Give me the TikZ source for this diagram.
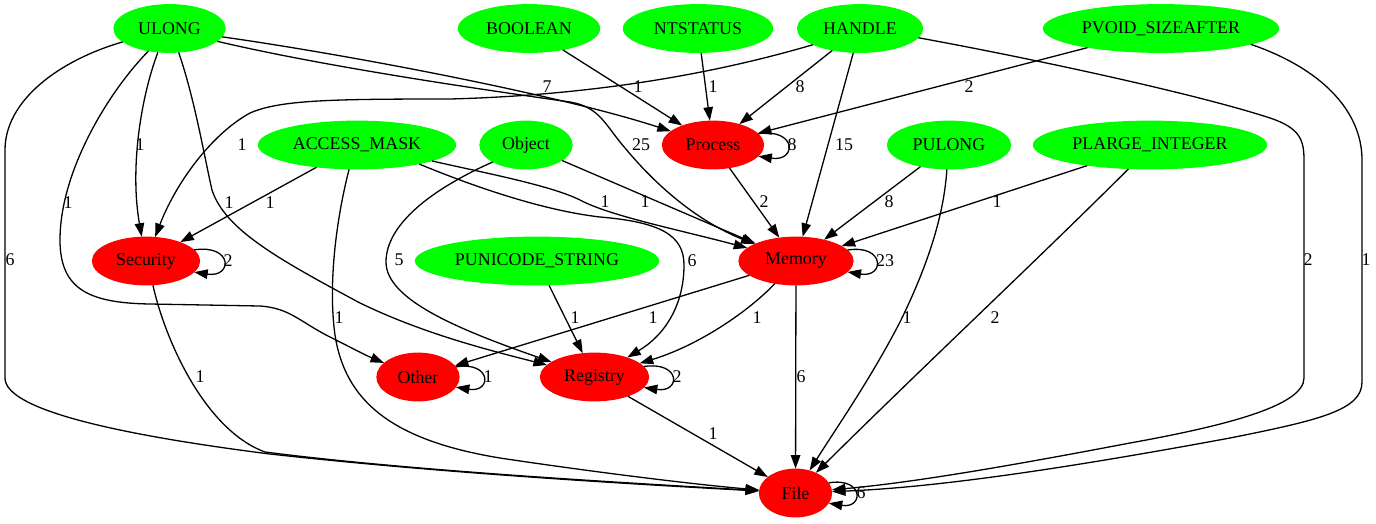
\documentclass[tikz,border=0pt]{standalone}
\usepackage{fontspec}
\setmainfont{Liberation Serif}
\usetikzlibrary{shapes.geometric,arrows.meta}
\definecolor{typegreen}{RGB}{0,255,0}
\definecolor{catred}{RGB}{255,0,0}
\begin{document}
\begin{tikzpicture}[x=1pt,y=-1pt,
  every node/.style={font=\fontsize{17.9}{20}\selectfont},
  typ/.style={ellipse,fill=typegreen,draw=typegreen,line width=1.3pt,inner sep=0pt,minimum height=47.5pt},
  cat/.style={ellipse,fill=catred,draw=catred,line width=1.3pt,inner sep=0pt,minimum height=47.5pt},
  conn/.style={draw=black,line width=1.3pt,-{Triangle[length=13.5pt,width=9.5pt]}},
  lbl/.style={inner sep=0pt}
]
\useasboundingbox (0,0) rectangle (1376,523);

% type nodes (green) and category nodes (red)
\node[typ,minimum width=111pt] (ulong)   at (169.5,28.5) {ULONG};
\node[typ,minimum width=141pt] (boolean) at (529,28.5)   {BOOLEAN};
\node[typ,minimum width=149pt] (ntstatus) at (698,28.5)  {NTSTATUS};
\node[typ,minimum width=125pt] (handle)  at (860,28.5)   {HANDLE};
\node[typ,minimum width=235pt] (pvoid)   at (1161,28.5)  {PVOID\_SIZEAFTER};
\node[typ,minimum width=197pt] (access)  at (357,145)    {ACCESS\_MASK};
\node[typ,minimum width=92pt]  (object)  at (526,145)    {Object};
\node[cat,minimum width=101pt] (process) at (713,145)    {Process};
\node[typ,minimum width=123pt] (pulong)  at (949,145)    {PULONG};
\node[typ,minimum width=233pt] (plarge)  at (1150,145)   {PLARGE\_INTEGER};
\node[cat,minimum width=107pt] (security) at (146,261)   {Security};
\node[typ,minimum width=243pt] (punicode) at (537,261)   {PUNICODE\_STRING};
\node[cat,minimum width=114pt] (memory)  at (796,261)    {Memory};
\node[cat,minimum width=82pt]  (other)   at (418,377)    {Other};
\node[cat,minimum width=108pt] (registry) at (594.5,377) {Registry};
\node[cat,minimum width=72pt]  (file)    at (795.5,493)  {File};

% edges from ULONG
\draw[conn] (ulong.196) .. controls (60,60) and (5,100) .. (5,150) -- (5,378)
  .. controls (5,410) and (120,435) .. (270,454) .. controls (450,474) and (650,485) .. (file);
\draw[conn] (ulong.227) .. controls (110,90) and (60,170) .. (60,240)
  .. controls (60,290) and (90,303) .. (150,304) -- (260,306)
  .. controls (290,308) and (300,322) .. (330,337) .. controls (350,347) and (365,355) .. (other);
\draw[conn] (ulong.244) .. controls (140,100) and (130,170) .. (security);
\draw[conn] (ulong.291) .. controls (195,100) and (205,160) .. (212,190)
  .. controls (225,230) and (280,260) .. (360,303) .. controls (420,332) and (480,348) .. (registry);
\draw[conn] (ulong.351) .. controls (350,55) and (560,95) .. (process);
\draw[conn] (ulong.345) .. controls (330,68) and (500,92) .. (570,102)
  .. controls (600,107) and (605,125) .. (625,148) .. controls (660,190) and (700,222) .. (memory);

% edges into Process
\draw[conn] (boolean) -- (process);
\draw[conn] (ntstatus) -- (process);
\draw[conn] (handle) -- (process);
\draw[conn] (pvoid) -- (process);
\draw[conn] (process.14) .. controls (797,128) and (797,162) .. (process.-14);

% edges from HANDLE
\draw[conn] (handle.199) .. controls (720,72) and (600,95) .. (450,99)
  .. controls (330,99) and (280,100) .. (250,113) .. controls (210,135) and (175,185) .. (security);
\draw[conn] (handle) -- (memory);
\draw[conn] (handle.351) .. controls (1040,60) and (1200,95) .. (1270,118)
  .. controls (1300,128) and (1304,140) .. (1304,160) -- (1304,378)
  .. controls (1304,405) and (1230,425) .. (1130,443) .. controls (1030,462) and (920,482) .. (file);

% PVOID_SIZEAFTER to File
\draw[conn] (pvoid.350) .. controls (1320,68) and (1362,110) .. (1362,160) -- (1362,382)
  .. controls (1362,410) and (1320,420) .. (1230,438) .. controls (1100,462) and (950,487) .. (file);

% edges from ACCESS_MASK
\draw[conn] (access) -- (security);
\draw[conn] (access.348) .. controls (480,172) and (550,185) .. (580,200)
  .. controls (610,216) and (680,230) .. (memory);
\draw[conn] (access.343) .. controls (470,185) and (540,210) .. (600,217)
  .. controls (660,222) and (684,235) .. (684,265) .. controls (684,305) and (665,335) .. (registry);
\draw[conn] (access.252) .. controls (336,220) and (328,285) .. (335,335)
  .. controls (345,400) and (390,440) .. (500,458) .. controls (600,473) and (700,485) .. (file);

% edges from Object
\draw[conn] (object) -- (memory);
\draw[conn] (object.207) .. controls (430,190) and (386,225) .. (386,262)
  .. controls (386,300) and (460,330) .. (registry);

% Process, PULONG, PLARGE_INTEGER
\draw[conn] (process) -- (memory);
\draw[conn] (pulong) -- (memory);
\draw[conn] (pulong.265) .. controls (944,215) and (928,265) .. (900,322)
  .. controls (870,380) and (835,430) .. (file);
\draw[conn] (plarge) -- (memory);
\draw[conn] (plarge.228) .. controls (1035,262) and (930,360) .. (file);

% Security
\draw[conn] (security.13) .. controls (233,244) and (233,278) .. (security.-13);
\draw[conn] (security.286) .. controls (165,340) and (205,430) .. (265,452)
  .. controls (420,472) and (650,484) .. (file);

% PUNICODE_STRING, Memory
\draw[conn] (punicode) -- (registry);
\draw[conn] (memory.12) .. controls (885,244) and (885,278) .. (memory.-12);
\draw[conn] (memory) -- (other);
\draw[conn] (memory) .. controls (750,310) and (700,345) .. (registry);
\draw[conn] (memory) -- (file);

% Other, Registry, File
\draw[conn] (other.15) .. controls (492,361) and (492,393) .. (other.-15);
\draw[conn] (registry.12) .. controls (681,361) and (681,393) .. (registry.-12);
\draw[conn] (registry) -- (file);
\draw[conn] (file.17) .. controls (864,477) and (864,509) .. (file.-17);

% edge counts
\node[lbl] (c1)  at (10,260)  {6};
\node[lbl] (c2)  at (68,203)  {1};
\node[lbl] (c3)  at (140,145) {1};
\node[lbl] (c4)  at (229,203) {1};
\node[lbl] (c5)  at (547,87)  {7};
\node[lbl] (c6)  at (641,145) {25};
\node[lbl] (c7)  at (242,145) {1};
\node[lbl] (c8)  at (638,87)  {1};
\node[lbl] (c9)  at (713,87)  {1};
\node[lbl] (c10) at (800,87)  {8};
\node[lbl] (c11) at (844,145) {15};
\node[lbl] (c12) at (1308,260) {2};
\node[lbl] (c13) at (969,87)  {2};
\node[lbl] (c14) at (1366,260) {1};
\node[lbl] (c15) at (792,145) {8};
\node[lbl] (c16) at (764,202) {2};
\node[lbl] (c17) at (270,203) {1};
\node[lbl] (c18) at (605,202) {1};
\node[lbl] (c19) at (692,261) {6};
\node[lbl] (c20) at (339,318) {1};
\node[lbl] (c21) at (645,202) {1};
\node[lbl] (c22) at (399,260) {5};
\node[lbl] (c23) at (889,202) {8};
\node[lbl] (c24) at (907,318) {1};
\node[lbl] (c25) at (997,202) {1};
\node[lbl] (c26) at (995,318) {2};
\node[lbl] (c27) at (228,261) {2};
\node[lbl] (c28) at (200,377) {1};
\node[lbl] (c29) at (575,318) {1};
\node[lbl] (c30) at (885,261) {23};
\node[lbl] (c31) at (653,318) {1};
\node[lbl] (c32) at (757,318) {1};
\node[lbl] (c33) at (801,377) {6};
\node[lbl] (c34) at (488,377) {1};
\node[lbl] (c35) at (677,377) {2};
\node[lbl] (c36) at (713,434) {1};
\node[lbl] (c37) at (861,493) {6};
\end{tikzpicture}
\end{document}
